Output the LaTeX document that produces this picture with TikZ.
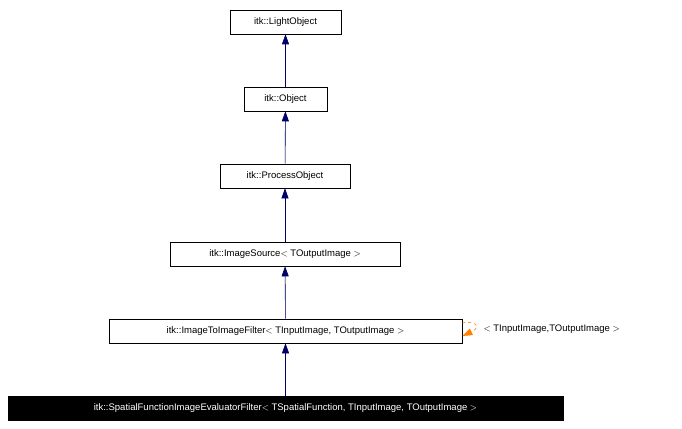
\documentclass[tikz,border=0pt]{standalone}
\usepackage{fontspec}
\setmainfont{Liberation Sans}
\usetikzlibrary{positioning, arrows.meta}
\begin{document}
\begin{tikzpicture}[x=1pt, y=-1pt, >={Triangle[width=7pt,length=10pt]},
  every node/.style={font=\fontsize{9.5}{11}\selectfont},
  cls/.style={draw, rectangle, minimum height=24pt, inner sep=0pt, line width=0.6pt},
  inh/.style={<-, draw=black!60!blue, fill=black!60!blue, line width=0.6pt}]
\useasboundingbox (0,0) rectangle (682,428);
% class boxes
\node[cls, minimum width=111pt] (light) at (285.5,22) {itk::LightObject};
\node[cls, minimum width=83pt] (obj) at (285.5,99) {itk::Object};
\node[cls, minimum width=130pt] (proc) at (285,176) {itk::ProcessObject};
\node[cls, minimum width=230pt] (src) at (285,254) {itk::ImageSource$<$ TOutputImage $>$};
\node[cls, minimum width=353pt] (filt) at (285.5,331) {itk::ImageToImageFilter$<$ TInputImage, TOutputImage $>$};
\node[cls, minimum width=555pt, fill=black, text=white] (eval) at (285.5,408) {itk::SpatialFunctionImageEvaluatorFilter$<$ TSpatialFunction, TInputImage, TOutputImage $>$};
% inheritance
\draw[inh] (light) -- (obj);
\draw[inh] (obj) -- (proc);
\draw[inh] (proc) -- (src);
\draw[inh] (src) -- (filt);
\draw[inh] (filt) -- (eval);
% template instance
\node[anchor=west] (tmpl) at (480,329) {$<$ TInputImage,TOutputImage $>$};
\coordinate (loopa) at (filt.east |- 0,323);
\coordinate (loopb) at (filt.east |- 0,336);
\draw[->, orange, dashed, line width=0.6pt] (loopa) .. controls (472,320) and (484,326) .. (loopb);
\end{tikzpicture}
\end{document}
